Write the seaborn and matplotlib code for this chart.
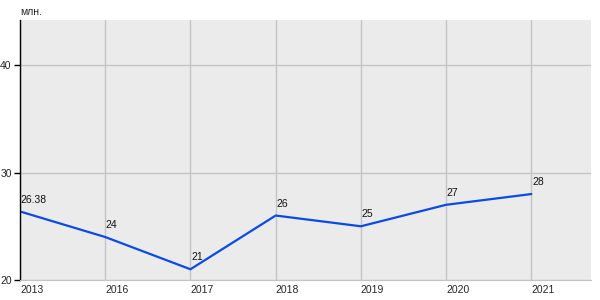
import matplotlib
matplotlib.use("Agg")
import matplotlib.pyplot as plt
import seaborn as sns
import pandas as pd

years = ["2013", "2016", "2017", "2018", "2019", "2020", "2021"]
values = [26.38, 24, 21, 26, 25, 27, 28]
labels = ["26.38", "24", "21", "26", "25", "27", "28"]
y_ticks = [20, 30, 40]

sns.set_style("white")
plt.rcParams['font.family'] = ['Liberation Sans', 'DejaVu Sans']

df = pd.DataFrame({"pos": list(range(len(years))), "value": values})

fig = plt.figure(figsize=(6, 3), dpi=100)
ax = fig.add_axes([20/600, 20/300, 571/600, 260/300])
ax.set_facecolor("#EBEBEB")

sns.lineplot(data=df, x="pos", y="value", ax=ax, color="#0A4BE6", linewidth=1.6)

for p, v, t in zip(df["pos"], values, labels):
    ax.annotate(t, (p, v), xytext=(0.5, 5), textcoords="offset points",
                fontsize=7.5, color="#111111", ha="left", va="bottom")

ax.set_xlim(0, 6.7)
ax.set_ylim(20, 44.2)
ax.set_xticks(range(len(years)))
ax.set_xticklabels(years, ha="left", fontsize=7.5)
ax.set_yticks(y_ticks)
ax.set_yticklabels([str(t) for t in y_ticks], fontsize=7.5)
ax.grid(True, color="#C4C4C4", linewidth=1)
ax.set_axisbelow(True)
ax.set_xlabel("")
ax.set_ylabel("")

for s in ["top", "right"]:
    ax.spines[s].set_visible(False)
ax.spines["bottom"].set_color("#C4C4C4")
ax.spines["left"].set_color("black")
ax.spines["left"].set_linewidth(1)
ax.tick_params(axis="y", length=4, width=1, color="black", pad=2, left=True)
ax.tick_params(axis="x", length=0, pad=3.5)

fig.text(20/600, 1 - 12/300, "млн.", fontsize=7.5, ha="left", va="center")

fig.savefig("out.png", dpi=100)
